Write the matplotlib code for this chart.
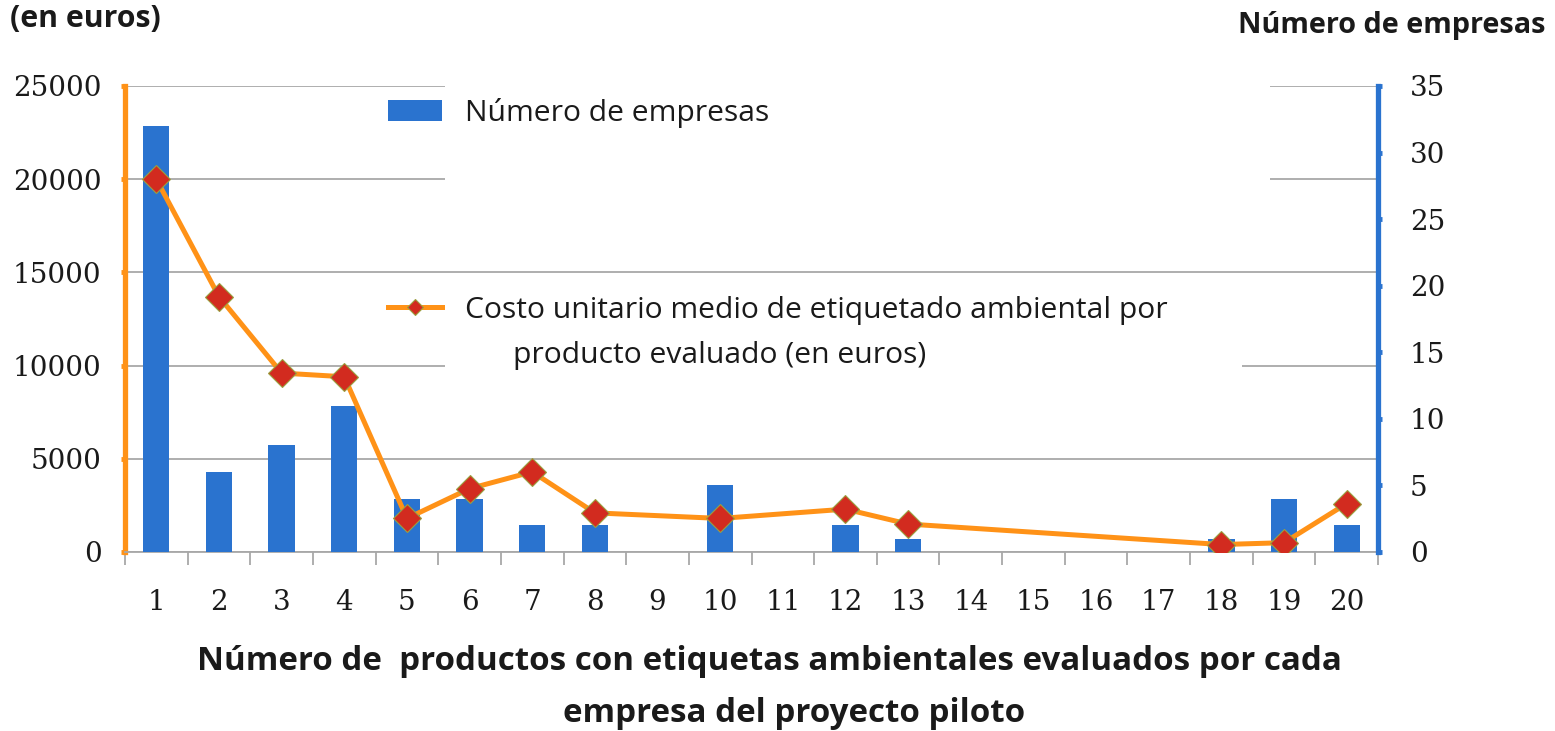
import matplotlib.pyplot as plt
from matplotlib.lines import Line2D
from matplotlib.patches import Patch, Rectangle
import numpy as np

# product counts per company (x categories)
categories = [str(i) for i in range(1, 21)]
# number of companies (right axis)
companies = [32, 6, 8, 11, 4, 4, 2, 2, 0, 5, 0, 2, 1, 0, 0, 0, 0, 1, 4, 2]
# mean unit cost in euros (left axis), missing where no company
cost = [20000, 13700, 9600, 9400, 1800, 3400, 4300, 2100, np.nan, 1800,
        np.nan, 2300, 1500, np.nan, np.nan, np.nan, np.nan, 400, 500, 2600]

left_ticks = [0, 5000, 10000, 15000, 20000, 25000]
right_ticks = [0, 5, 10, 15, 20, 25, 30, 35]

BLUE = '#2A73CF'
ORANGE = '#FF9217'
RED = '#D22B1F'
GRID = '#A8A8A8'
TXT = '#1A1A1A'

W, H = 1555, 731
fig = plt.figure(figsize=(W / 100, H / 100), dpi=100)
ax = fig.add_axes([125 / W, 1 - 552 / H, 1253 / W, 466 / H])

x = np.arange(1, len(categories) + 1)

# left axis: gridlines + scale
ax.set_xlim(0.5, len(categories) + 0.5)
ax.set_ylim(0, 25000)
ax.set_yticks(left_ticks)
ax.set_yticklabels([str(t) for t in left_ticks], fontfamily='DejaVu Serif', fontsize=20, color=TXT)
ax.yaxis.grid(True, color=GRID, linewidth=1.3)
ax.set_axisbelow(True)
ax.set_xticks(x)
ax.set_xticklabels(categories, fontfamily='DejaVu Serif', fontsize=20, color=TXT)
ax.set_xticks(np.arange(0.5, len(categories) + 1, 1), minor=True)
ax.tick_params(axis='x', which='major', length=0, pad=27)
ax.tick_params(axis='x', which='minor', length=9, width=1.3, color=GRID, direction='out')
ax.tick_params(axis='y', length=3, width=3.5, color=ORANGE, direction='out', pad=14)
for s in ['top', 'right']:
    ax.spines[s].set_visible(False)
ax.spines['left'].set_color(ORANGE)
ax.spines['left'].set_linewidth(3.8)
ax.spines['bottom'].set_color(GRID)
ax.spines['bottom'].set_linewidth(1.3)

# right axis: bars
ax2 = ax.twinx()
ax2.bar(x, companies, width=0.42, color=BLUE, zorder=2)
ax2.set_ylim(0, 35)
ax2.set_yticks(right_ticks)
ax2.set_yticklabels([str(t) for t in right_ticks], fontfamily='DejaVu Serif', fontsize=20, color=TXT)
ax2.tick_params(axis='y', length=3, width=3.5, color=BLUE, direction='out', pad=20)
for s in ['top', 'left', 'bottom']:
    ax2.spines[s].set_visible(False)
ax2.spines['right'].set_color(BLUE)
ax2.spines['right'].set_linewidth(3.8)

# line on top, same scale as left axis
ax3 = ax.twinx()
ax3.set_ylim(0, 25000)
ax3.set_yticks([])
for s in ax3.spines.values():
    s.set_visible(False)
cost_arr = np.array(cost, dtype=float)
ok = ~np.isnan(cost_arr)
ax3.plot(x[ok], cost_arr[ok], color=ORANGE, linewidth=3.6, marker='D', markersize=14.5,
         markerfacecolor=RED, markeredgecolor='#9AA040', markeredgewidth=0.8, zorder=3)

# white backgrounds behind the legend entries
ax3.add_patch(Rectangle((0.2554, 0.775), 0.6584, 0.24, transform=ax3.transAxes,
                        facecolor='white', edgecolor='none', zorder=0.5, clip_on=False))
ax3.add_patch(Rectangle((0.2554, 0.37), 0.636, 0.19, transform=ax3.transAxes,
                        facecolor='white', edgecolor='none', zorder=0.5))

leg_font = {'family': 'Open Sans', 'size': 21.6}
leg1 = ax3.legend(handles=[Patch(facecolor=BLUE, edgecolor='none')], labels=['Número de empresas'],
                  loc='center left', bbox_to_anchor=(0.2099, 0.942), frameon=False, prop=leg_font,
                  borderpad=0, borderaxespad=0, handlelength=1.8, handleheight=0.66, handletextpad=0.76,
                  labelcolor=TXT)
ax3.add_artist(leg1)
line_handle = Line2D([], [], color=ORANGE, linewidth=3.6, marker='D', markersize=8.5,
                     markerfacecolor=RED, markeredgecolor='#9AA040', markeredgewidth=0.8)
ax3.legend(handles=[line_handle], labels=['Costo unitario medio de etiquetado ambiental por'],
           loc='center left', bbox_to_anchor=(0.2099, 0.519), frameon=False, prop=leg_font,
           borderpad=0, borderaxespad=0, handlelength=1.8, handletextpad=0.76, labelcolor=TXT)
ax3.text(0.3097, 0.4227, 'producto evaluado (en euros)', transform=ax3.transAxes,
         ha='left', va='center', fontfamily='Open Sans', fontsize=21.6, color=TXT)

# titles
fig.text(10 / W, 1 - 19 / H, '(en euros)', ha='left', va='center', color=TXT,
         fontfamily='Open Sans', fontweight='bold', fontsize=21.8)
fig.text(1545 / W, 1 - 25 / H, 'Número de empresas', ha='right', va='center', color=TXT,
         fontfamily='Open Sans', fontweight='bold', fontsize=20.8)
fig.text(769 / W, 1 - 662 / H, 'Número de  productos con etiquetas ambientales evaluados por cada',
         ha='center', va='center', fontfamily='Open Sans', fontweight='bold', fontsize=23.9, color=TXT)
fig.text(794 / W, 1 - 713 / H, 'empresa del proyecto piloto',
         ha='center', va='center', fontfamily='Open Sans', fontweight='bold', fontsize=23.9, color=TXT)

fig.savefig('out.png', dpi=100)
